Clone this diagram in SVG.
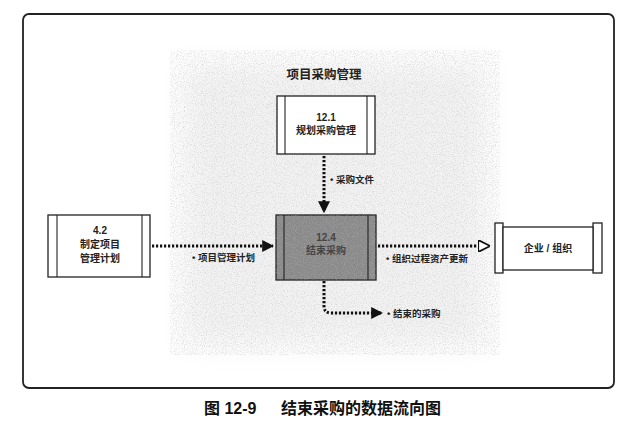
<svg xmlns="http://www.w3.org/2000/svg" width="640" height="424" viewBox="0 0 640 424">
<defs>
<filter id="noise" x="0" y="0" width="100%" height="100%">
<feTurbulence type="fractalNoise" baseFrequency="0.9" numOctaves="2" seed="3" result="n"/>
<feColorMatrix in="n" type="matrix" values="0 0 0 0 0.55  0 0 0 0 0.55  0 0 0 0 0.55  0 0 0 -3 1.6" result="dots"/>
<feComposite in="dots" in2="SourceGraphic" operator="in"/>
</filter>
<filter id="soft"><feGaussianBlur stdDeviation="14"/></filter>
<marker id="ah" viewBox="0 0 10 10" refX="9" refY="5" markerWidth="4" markerHeight="4" orient="auto"><path d="M0,0 L10,5 L0,10 z" fill="#111"/></marker>
<marker id="aho" viewBox="0 0 10 10" refX="9" refY="5" markerWidth="4" markerHeight="4" orient="auto"><path d="M0,0 L10,5 L0,10 z" fill="#fff" stroke="#111" stroke-width="1.5"/></marker>
</defs>
<style>
.box{fill:#fff;stroke:#222;stroke-width:1.3}
.ln{stroke:#222;stroke-width:1.1}
.t{font-family:"Liberation Sans","Noto Sans CJK SC",sans-serif;font-size:10px;font-weight:600;fill:#222;text-anchor:middle}
.lb{font-family:"Liberation Sans","Noto Sans CJK SC",sans-serif;font-size:9.5px;font-weight:600;fill:#222}
.dot{fill:none;stroke:#111;stroke-width:3;stroke-dasharray:2.2 1.8}
.cap{font-family:"Liberation Sans","Noto Sans CJK SC",sans-serif;font-size:16px;font-weight:bold;fill:#111}
</style>
<rect width="640" height="424" fill="#fff"/>
<rect x="23" y="14" width="591" height="374" rx="6" fill="#fff" stroke="#222" stroke-width="1.8"/>
<g filter="url(#soft)"><rect x="185" y="65" width="300" height="280" fill="#f2f2f2"/></g>
<rect x="170" y="50" width="330" height="305" fill="#fff" filter="url(#noise)" opacity="0.5"/>
<text x="324" y="79" class="t" style="font-size:12.5px;font-weight:bold">项目采购管理</text>
<g id="connectors">
<path class="dot" d="M324,156 V212" marker-end="url(#ah)"/>
<path class="dot" d="M152,246 H273" marker-end="url(#ah)"/>
<path class="dot" d="M378,246 H489" marker-end="url(#aho)"/>
<path class="dot" d="M324,281 V306 Q324,313 331,313 H382" marker-end="url(#ah)"/>
<text x="330" y="183" class="lb">• 采购文件</text>
<text x="192" y="261" class="lb">• 项目管理计划</text>
<text x="386" y="262" class="lb">• 组织过程资产更新</text>
<text x="387" y="317" class="lb">• 结束的采购</text>
</g>
<g id="n12_1">
<rect x="277" y="96" width="98" height="58" class="box"/>
<line x1="285" y1="96" x2="285" y2="154" class="ln"/>
<line x1="367" y1="96" x2="367" y2="154" class="ln"/>
<text x="326" y="121" class="t">12.1</text>
<text x="326" y="134" class="t">规划采购管理</text>
</g>
<g id="n12_4">
<rect x="276" y="215" width="100" height="65" fill="#8a8a8a" stroke="#222" stroke-width="1.3"/>
<rect x="276" y="215" width="100" height="65" fill="#fff" filter="url(#noise)" opacity="0.35"/>
<line x1="284" y1="215" x2="284" y2="280" class="ln"/>
<line x1="368" y1="215" x2="368" y2="280" class="ln"/>
<text x="326" y="241" class="t" style="fill:#444">12.4</text>
<text x="326" y="254" class="t" style="fill:#444">结束采购</text>
</g>
<g id="n4_2">
<rect x="48" y="215" width="102" height="62" class="box"/>
<line x1="57" y1="215" x2="57" y2="277" class="ln"/>
<line x1="142" y1="215" x2="142" y2="277" class="ln"/>
<text x="100" y="234" class="t">4.2</text>
<text x="100" y="248" class="t">制定项目</text>
<text x="100" y="262" class="t">管理计划</text>
</g>
<g id="org">
<rect x="495" y="223" width="8" height="50" class="box"/>
<rect x="593" y="223" width="9" height="50" class="box"/>
<rect x="503" y="227" width="90" height="43" class="box"/>
<text x="548" y="252" class="t">企业 / 组织</text>
</g>
<text y="414" class="cap"><tspan x="204">图 12-9</tspan><tspan x="281">结束采购的数据流向图</tspan></text>
</svg>
